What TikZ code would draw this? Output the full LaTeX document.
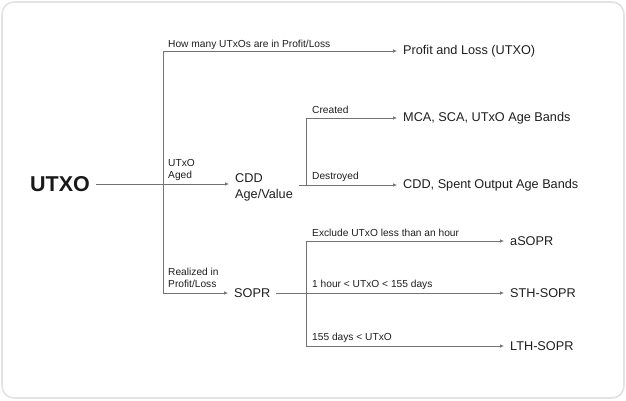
\documentclass[tikz,border=0pt]{standalone}
\usepackage{fontspec}
\setmainfont{Liberation Sans}
\usetikzlibrary{arrows.meta,positioning}

\begin{document}
\begin{tikzpicture}[
    x=1pt, y=-1pt,
    frame/.style={draw=black!11, line width=1.6pt, rounded corners=12pt, fill=white},
    root/.style={anchor=west, inner xsep=6pt, inner ysep=0pt, font=\fontsize{21.5}{24}\selectfont\bfseries, text=black!90},
    metric/.style={anchor=west, inner xsep=6pt, inner ysep=0pt, align=left, font=\fontsize{12.7}{16}\selectfont, text=black!88},
    lbl/.style={anchor=base west, inner sep=0pt, align=left, font=\fontsize{10.2}{11.5}\selectfont, text=black!88},
    wire/.style={draw=black!55, line width=0.7pt},
    arrow/.style={wire, -{Latex[length=4pt,width=3.6pt]}}
]
\draw[frame] (2,2) rectangle (624,398);
\useasboundingbox (0,0) rectangle (626,400);

\node[root] (utxo) at (24,184) {UTXO};
\node[metric] (cdd) at (229,187) {CDD\\Age/Value};
\node[metric] (sopr) at (228,293) {SOPR};
\node[metric] (pl) at (397,51) {Profit and Loss (UTXO)};
\node[metric] (mca) at (397,118) {MCA, SCA, UTxO Age Bands};
\node[metric] (spent) at (397,185) {CDD, Spent Output Age Bands};
\node[metric] (asopr) at (504,241) {aSOPR};
\node[metric] (sth) at (504,293) {STH-SOPR};
\node[metric] (lth) at (504,346) {LTH-SOPR};

\coordinate (split) at (163,184);
\coordinate (cddsplit) at (306,185);
\coordinate (soprsplit) at (306,293);

\draw[arrow] (utxo.east) -- (cdd.west |- utxo.east);
\draw[arrow] (split) |- (pl.west);
\draw[arrow] (split) |- (sopr.west);
\draw[wire] (cdd.east |- cddsplit) -- (cddsplit);
\draw[arrow] (cddsplit) |- (mca.west);
\draw[arrow] (cddsplit) -- (spent.west);
\draw[wire] (sopr.east) -- (soprsplit);
\draw[arrow] (soprsplit) |- (asopr.west);
\draw[arrow] (soprsplit) -- (sth.west);
\draw[arrow] (soprsplit) |- (lth.west);

\node[lbl] (howmany) at (168,47) {How many UTxOs are in Profit/Loss};
\node[lbl] (aged) at (168,178) {UTxO\\Aged};
\node[lbl] (realized) at (168,287) {Realized in\\Profit/Loss};
\node[lbl] (created) at (312,113) {Created};
\node[lbl] (destroyed) at (312,179.5) {Destroyed};
\node[lbl] (exclude) at (312,236) {Exclude UTxO less than an hour};
\node[lbl] (short) at (312,287.5) {1 hour < UTxO < 155 days};
\node[lbl] (long) at (312,340.5) {155 days < UTxO};
\end{tikzpicture}
\end{document}
